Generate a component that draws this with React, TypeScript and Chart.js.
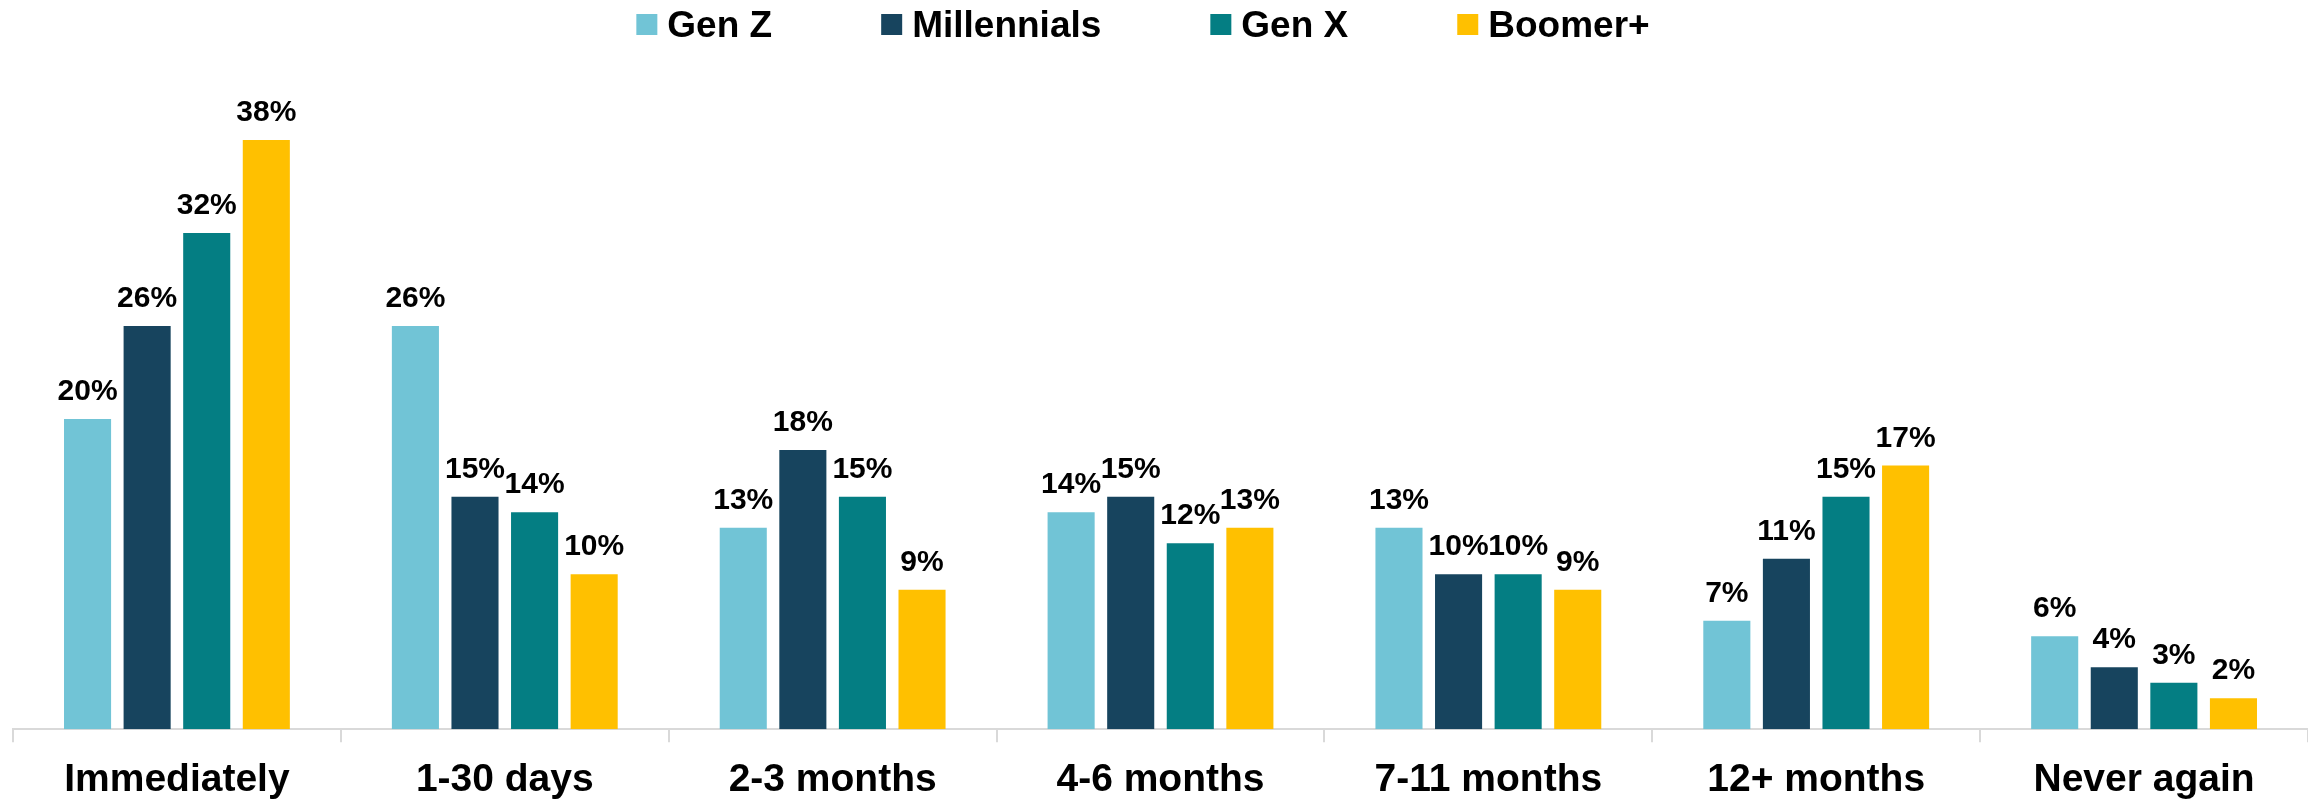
import React, { useEffect, useRef } from "react";
import { Chart, registerables } from "chart.js";

Chart.register(...registerables);

const categories = ["Immediately", "1-30 days", "2-3 months", "4-6 months", "7-11 months", "12+ months", "Never again"];
const seriesNames = ["Gen Z", "Millennials", "Gen X", "Boomer+"];
const genZ = [20, 26, 13, 14, 13, 7, 6];
const millennials = [26, 15, 18, 15, 10, 11, 4];
const genX = [32, 14, 15, 12, 10, 15, 3];
const boomers = [38, 10, 9, 13, 9, 17, 2];
const seriesColors = ["#71C4D6", "#17445E", "#047E83", "#FFC000"];

const legendPlugin = {
  id: "customLegend",
  afterDraw(chart: any) {
    const ctx = chart.ctx;
    const datasets = chart.data.datasets;
    ctx.save();
    ctx.font = "bold 37px 'Liberation Sans', Arial, sans-serif";
    const box = 21;
    const boxGap = 10;
    const itemGap = 109;
    const widths = datasets.map((d: any) => box + boxGap + ctx.measureText(d.label).width);
    const total = widths.reduce((a: number, b: number) => a + b, 0) + itemGap * (datasets.length - 1);
    let x = chart.width / 2 - 15 - total / 2;
    datasets.forEach((d: any, i: number) => {
      ctx.fillStyle = d.backgroundColor;
      ctx.fillRect(x, 6, box, box);
      ctx.fillStyle = "#000";
      ctx.textBaseline = "alphabetic";
      ctx.textAlign = "left";
      ctx.fillText(d.label, x + box + boxGap, 29);
      x += widths[i] + itemGap;
    });
    ctx.restore();
  },
};

const dataLabelPlugin = {
  id: "barValueLabels",
  afterDatasetsDraw(chart: any) {
    const ctx = chart.ctx;
    ctx.save();
    ctx.font = "bold 30px 'Liberation Sans', Arial, sans-serif";
    ctx.fillStyle = "#000";
    ctx.textAlign = "center";
    ctx.textBaseline = "alphabetic";
    chart.data.datasets.forEach((d: any, di: number) => {
      const meta = chart.getDatasetMeta(di);
      meta.data.forEach((bar: any, i: number) => {
        ctx.fillText(`${d.data[i]}%`, bar.x, bar.y - 19);
      });
    });
    ctx.restore();
  },
};

export default function App() {
  const canvasRef = useRef<HTMLCanvasElement | null>(null);

  useEffect(() => {
    if (!canvasRef.current) return;
    const values = [genZ, millennials, genX, boomers];
    const chart = new Chart(canvasRef.current, {
      type: "bar",
      data: {
        labels: categories,
        datasets: seriesNames.map((name, i) => ({
          label: name,
          data: values[i],
          backgroundColor: seriesColors[i],
          borderWidth: 0,
          categoryPercentage: 0.727,
          barPercentage: 0.79,
        })),
      },
      options: {
        animation: false,
        responsive: true,
        maintainAspectRatio: false,
        layout: { padding: { left: 5, right: 0, top: 101, bottom: -20 } },
        plugins: {
          legend: { display: false },
          tooltip: { enabled: false },
        },
        scales: {
          x: {
            grid: {
              display: true,
              drawOnChartArea: false,
              drawTicks: true,
              tickLength: 13,
              color: "#d9d9d9",
              lineWidth: 2,
              offset: true,
            },
            border: { display: true, color: "#d9d9d9", width: 2 },
            ticks: {
              color: "#000",
              font: { family: "'Liberation Sans', Arial, sans-serif", size: 39, weight: "bold" },
              padding: 15,
              maxRotation: 0,
              autoSkip: false,
            },
          },
          y: { display: false, min: 0, max: 40 },
        },
      },
      plugins: [legendPlugin, dataLabelPlugin],
    });
    return () => chart.destroy();
  }, []);

  return (
    <div style={{ width: 2300, height: 791, position: "relative" }}>
      <canvas ref={canvasRef} />
    </div>
  );
}
